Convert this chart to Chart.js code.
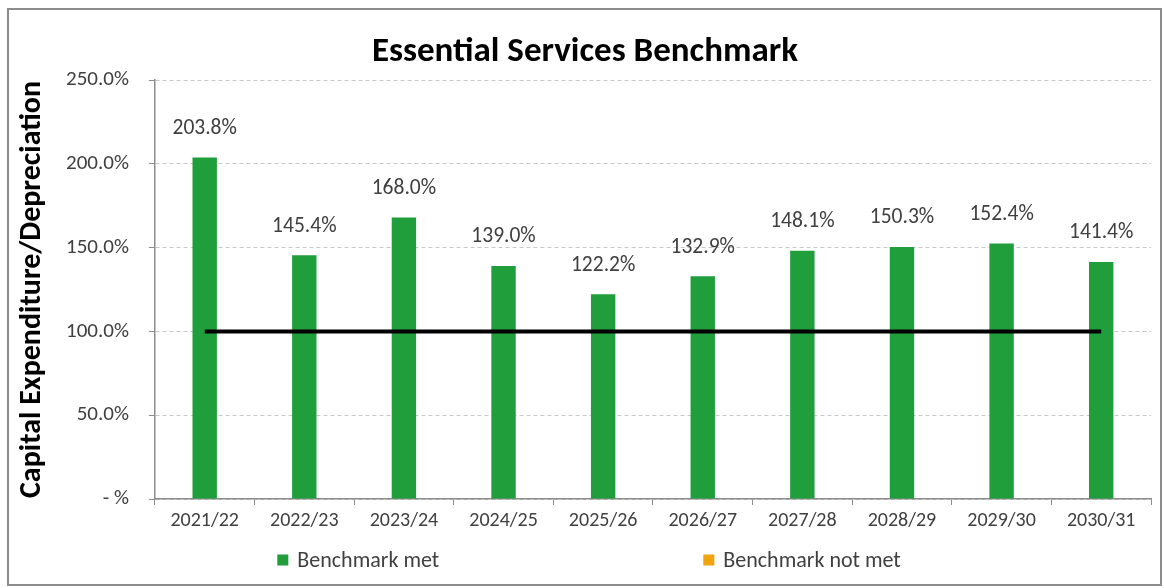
<!DOCTYPE html>
<html>
<head>
<meta charset="utf-8">
<script src="https://cdn.jsdelivr.net/npm/chart.js@4.4.1/dist/chart.umd.min.js"></script>
<style>
  html, body { margin: 0; padding: 0; background: #fff; }
  #wrap { position: relative; width: 1164px; height: 588px; }
  #frame { position: absolute; left: 7px; top: 8px; width: 1151px; height: 574px; border: 2px solid #8c8c8c; pointer-events: none; }
</style>
</head>
<body>
<div id="wrap">
  <canvas id="chart" width="1164" height="588"></canvas>
  <div id="frame"></div>
</div>
<script>
// financial years on the x axis
const years = ['2021/22', '2022/23', '2023/24', '2024/25', '2025/26',
               '2026/27', '2027/28', '2028/29', '2029/30', '2030/31'];
// capex / depreciation ratio, in percent
const ratioMet = [203.8, 145.4, 168.0, 139.0, 122.2, 132.9, 148.1, 150.3, 152.4, 141.4];
const ratioNotMet = [null, null, null, null, null, null, null, null, null, null];
// benchmark level (100%)
const benchmark = [100, 100, 100, 100, 100, 100, 100, 100, 100, 100];
const yTicks = [0, 50, 100, 150, 200, 250];

const FONT = 'Carlito, Lato, "Open Sans", sans-serif';
const TEXT = '#404040';

// value labels above each bar
const barLabels = {
    id: 'barLabels',
    afterDatasetsDraw(chart) {
        const ctx = chart.ctx;
        const meta = chart.getDatasetMeta(1);
        ctx.save();
        ctx.font = '21.5px ' + FONT;
        ctx.fillStyle = TEXT;
        ctx.textAlign = 'center';
        ctx.textBaseline = 'middle';
        meta.data.forEach((bar, i) => {
            const v = chart.data.datasets[1].data[i];
            if (v == null) return;
            ctx.fillText(v.toFixed(1) + '%', bar.x, bar.y - 29);
        });
        ctx.restore();
    }
};

// spread-out legend under the x axis (bar series only)
const wideLegend = {
    id: 'wideLegend',
    afterDraw(chart) {
        const ctx = chart.ctx;
        const items = chart.data.datasets.filter(d => d.type === 'bar');
        const y = 560, box = 11, gap = 426;
        ctx.save();
        ctx.font = '22px ' + FONT;
        ctx.textBaseline = 'middle';
        const lastW = box + 9 + ctx.measureText(items[items.length - 1].label).width;
        const total = gap * (items.length - 1) + lastW;
        let x = chart.width / 2 + 7 - total / 2;
        items.forEach(d => {
            ctx.fillStyle = d.backgroundColor;
            ctx.fillRect(x, y - box / 2, box, box);
            ctx.fillStyle = TEXT;
            ctx.fillText(d.label, x + box + 9, y + 1);
            x += gap;
        });
        ctx.restore();
    }
};

new Chart(document.getElementById('chart'), {
    data: {
        labels: years,
        datasets: [
            {
                type: 'line',
                label: 'Benchmark',
                data: benchmark,
                borderColor: '#000',
                borderWidth: 4,
                pointRadius: 0,
                order: 0
            },
            {
                type: 'bar',
                label: 'Benchmark met',
                data: ratioMet,
                backgroundColor: '#1f9e3b',
                grouped: false,
                barPercentage: 0.245,
                categoryPercentage: 1,
                order: 1
            },
            {
                type: 'bar',
                label: 'Benchmark not met',
                data: ratioNotMet,
                backgroundColor: '#f0a30a',
                grouped: false,
                barPercentage: 0.245,
                categoryPercentage: 1,
                order: 1
            }
        ]
    },
    options: {
        responsive: false,
        animation: false,
        layout: { padding: { top: 31, left: 19, right: 13, bottom: 51 } },
        plugins: {
            legend: { display: false },
            tooltip: { enabled: false },
            title: {
                display: true,
                text: 'Essential Services Benchmark',
                color: '#000',
                font: { family: FONT, size: 35, weight: 'bold' },
                padding: { top: 0, bottom: 7 }
            }
        },
        scales: {
            x: {
                offset: true,
                grid: { drawOnChartArea: false, tickLength: 6, tickColor: '#8c8c8c', offset: true },
                border: { color: '#8c8c8c', width: 1.5 },
                ticks: { color: TEXT, font: { family: FONT, size: 20 }, padding: 4 }
            },
            y: {
                min: 0,
                max: 250,
                afterBuildTicks(axis) { axis.ticks = yTicks.map(v => ({ value: v })); },
                grid: { color: '#c8c8c8', tickLength: 6, tickColor: '#8c8c8c' },
                border: { color: '#8c8c8c', width: 1.5, dash: [4, 3] },
                ticks: {
                    color: TEXT,
                    font: { family: FONT, size: 21 },
                    padding: 20,
                    callback: v => v === 0 ? '- %' : v.toFixed(1) + '%'
                },
                title: {
                    display: true,
                    text: 'Capital Expenditure/Depreciation',
                    color: '#000',
                    font: { family: FONT, size: 30, weight: 'bold', lineHeight: 0.9 },
                    padding: { top: 0, bottom: 0 }
                }
            }
        }
    },
    plugins: [barLabels, wideLegend]
});
</script>
</body>
</html>
